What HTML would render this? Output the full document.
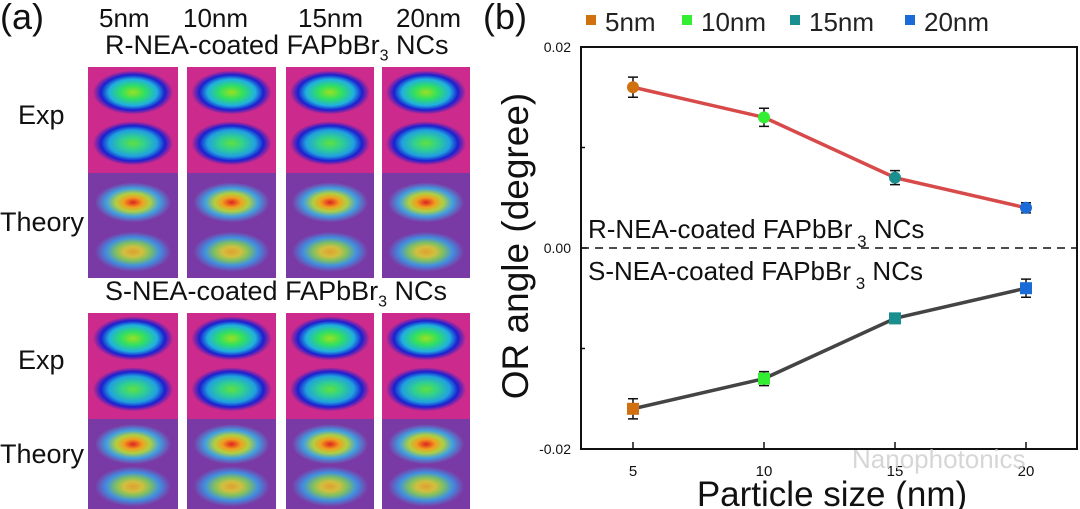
<!DOCTYPE html>
<html><head><meta charset="utf-8"><style>
body{margin:0;width:1080px;height:509px;background:#fff;overflow:hidden;position:relative;font-family:"Liberation Sans",sans-serif}
.t{position:absolute;white-space:nowrap;color:#111}
.tile{position:absolute}
</style></head><body>
<div class="t" style="left:0;top:-4px;font-size:36px">(a)</div>
<div class="t" style="left:99px;top:3px;font-size:26px">5nm</div>
<div class="t" style="left:183px;top:3px;font-size:26px">10nm</div>
<div class="t" style="left:298px;top:3px;font-size:26px">15nm</div>
<div class="t" style="left:396px;top:3px;font-size:26px">20nm</div>
<div class="t" style="left:105px;top:30px;font-size:27px">R-NEA-coated FAPbBr<sub style="font-size:16px">3</sub> NCs</div>
<div class="t" style="left:105px;top:276px;font-size:27px">S-NEA-coated FAPbBr<sub style="font-size:16px">3</sub> NCs</div>
<div class="t" style="left:18px;top:100px;font-size:27px">Exp</div>
<div class="t" style="left:0;top:207px;font-size:27px">Theory</div>
<div class="t" style="left:18px;top:345px;font-size:27px">Exp</div>
<div class="t" style="left:0;top:439px;font-size:27px">Theory</div>
<div id="tiles"></div>

<div class="t" style="left:483px;top:-4px;font-size:36px">(b)</div>
<svg id="chart" width="1080" height="509" style="position:absolute;left:0;top:0"></svg>
<script>
const categories=[5,10,15,20];
const catLabels=["5","10","15","20"];
const rValues=[0.016,0.013,0.007,0.004];
const sValues=[-0.016,-0.013,-0.007,-0.004];
const errValues=[0.001,0.0009,0.0007,0.0005];
const sErr=[0.001,0.0007,0.0005,0.0009];
const yTicks=[0.02,0,-0.02];
const yTickLabels=["0.02","0.00","-0.02"];
const legendLabels=["5nm","10nm","15nm","20nm"];
const colors=["#d0700f","#33ee33","#1a8f8f","#1a6ad8"];

const NS="http://www.w3.org/2000/svg";
const svg=document.getElementById('chart');
const L=581,R=1077,T=47,B=449;
const xs=v=>633+(v-5)*(1026-633)/15;
const ys=v=>248-v*(B-T)/0.04;
function mk(tag,at,parent){const e=document.createElementNS(NS,tag);for(const k in at)e.setAttribute(k,at[k]);(parent||svg).appendChild(e);return e;}

let fr=mk('rect',{x:L,y:T,width:R-L,height:B-T,fill:'none',stroke:'#111','stroke-width':2});


let z=mk('line',{x1:L,x2:R,y1:ys(0),y2:ys(0),stroke:'#111','stroke-width':1.5,'stroke-dasharray':'8,6'});


yTicks.forEach((v,i)=>{
  mk('line',{x1:L,x2:L+6,y1:ys(v),y2:ys(v),stroke:'#111','stroke-width':1.5});
  let t=mk('text',{x:L-10,y:ys(v)+5,'text-anchor':'end','font-size':14,fill:'#111'});t.textContent=yTickLabels[i];
  
  
});
[0.01,-0.01].forEach(v=>mk('line',{x1:L,x2:L+4,y1:ys(v),y2:ys(v),stroke:'#111','stroke-width':1.5}));
categories.forEach((c,i)=>{
  mk('line',{x1:xs(c),x2:xs(c),y1:B,y2:B-7,stroke:'#111','stroke-width':1.5});
  let t=mk('text',{x:xs(c),y:B+27,'text-anchor':'middle','font-size':15,fill:'#111'});t.textContent=catLabels[i];
  
  
});
function series(vals,errs,col,shape,name){
  let p=mk('polyline',{points:categories.map((c,i)=>xs(c)+','+ys(vals[i])).join(' '),fill:'none',stroke:col,'stroke-width':3.5});
  
  
  categories.forEach((c,i)=>{
    const x=xs(c),y1=ys(vals[i]+errs[i]),y2=ys(vals[i]-errs[i]);
    mk('path',{d:`M${x},${y1}V${y2}M${x-5},${y1}H${x+5}M${x-5},${y2}H${x+5}`,stroke:'#111','stroke-width':1.5,fill:'none'});
    let m;
    if(shape==='c')m=mk('circle',{cx:x,cy:ys(vals[i]),r:6,fill:colors[i]});
    else m=mk('rect',{x:x-6,y:ys(vals[i])-6,width:12,height:12,fill:colors[i]});
    
    
  });
}
series(rValues,errValues,'#d84a4a','c','r-nea');
series(sValues,sErr,'#444','s','s-nea');
let a1=mk('text',{x:588,y:238,'font-size':26,fill:'#111'});a1.innerHTML='R-NEA-coated FAPbBr<tspan dy="9" font-size="17"> 3</tspan><tspan dy="-9"> NCs</tspan>';


let a2=mk('text',{x:588,y:280,'font-size':26,fill:'#111'});a2.innerHTML='S-NEA-coated FAPbBr<tspan dy="9" font-size="17"> 3</tspan><tspan dy="-9"> NCs</tspan>';


let yl=mk('text',{x:0,y:0,'font-size':37,'text-anchor':'middle',fill:'#111',transform:`translate(528,246) rotate(-90)`});yl.textContent='OR angle (degree)';


let xl=mk('text',{x:832,y:506,'font-size':35,'text-anchor':'middle',fill:'#111'});xl.textContent='Particle size (nm)';


const lx=[591,687,795,910];
legendLabels.forEach((s,i)=>{
  let g=mk('g',{});
  
  
  mk('rect',{x:lx[i]-5,y:15,width:10,height:10,fill:colors[i]},g);
  let t=mk('text',{x:lx[i]+14,y:31,'font-size':26,fill:'#222'},g);t.textContent=s;
});
let wm=mk('text',{x:852,y:468,'font-size':26,fill:'#ccc','fill-opacity':0.8});wm.textContent='Nanophotonics';



// left tiles
const cont=document.getElementById('tiles');
const cols=[[88,90],[187,89],[286,88],[382,88]];
const rows=[[67,106,'e'],[173,105,'t'],[313,106,'e'],[419,90,'t']];
rows.forEach((r,ri)=>cols.forEach((c,ci)=>{
  const d=document.createElement('div');
  d.className='tile';
  
  
  d.style.cssText=`left:${c[0]}px;top:${r[0]}px;width:${c[1]}px;height:${r[1]}px;`;
  if(r[2]==='e'){
    d.style.background=`radial-gradient(ellipse 40px 22px at 50% 24%, #9be020 0%, #30e060 30%, #20b0e0 60%, #1a20d0 80%, rgba(200,30,150,0) 100%),radial-gradient(ellipse 40px 22px at 50% 72%, #60e040 0%, #30d090 30%, #20a0e0 60%, #1a20d0 80%, rgba(200,30,150,0) 100%),#cc2a8c`;
  }else{
    d.style.background=`radial-gradient(ellipse 38px 20px at 50% 28%, #e02020 0%, #f0a020 25%, #b0d040 45%, #40a0e0 70%, rgba(120,60,170,0) 100%),radial-gradient(ellipse 38px 20px at 50% 75%, #e0a030 0%, #d0c040 25%, #80c060 45%, #4090e0 70%, rgba(120,60,170,0) 100%),#7a3aa6`;
  }
  cont.appendChild(d);
}));
</script>
</body></html>
